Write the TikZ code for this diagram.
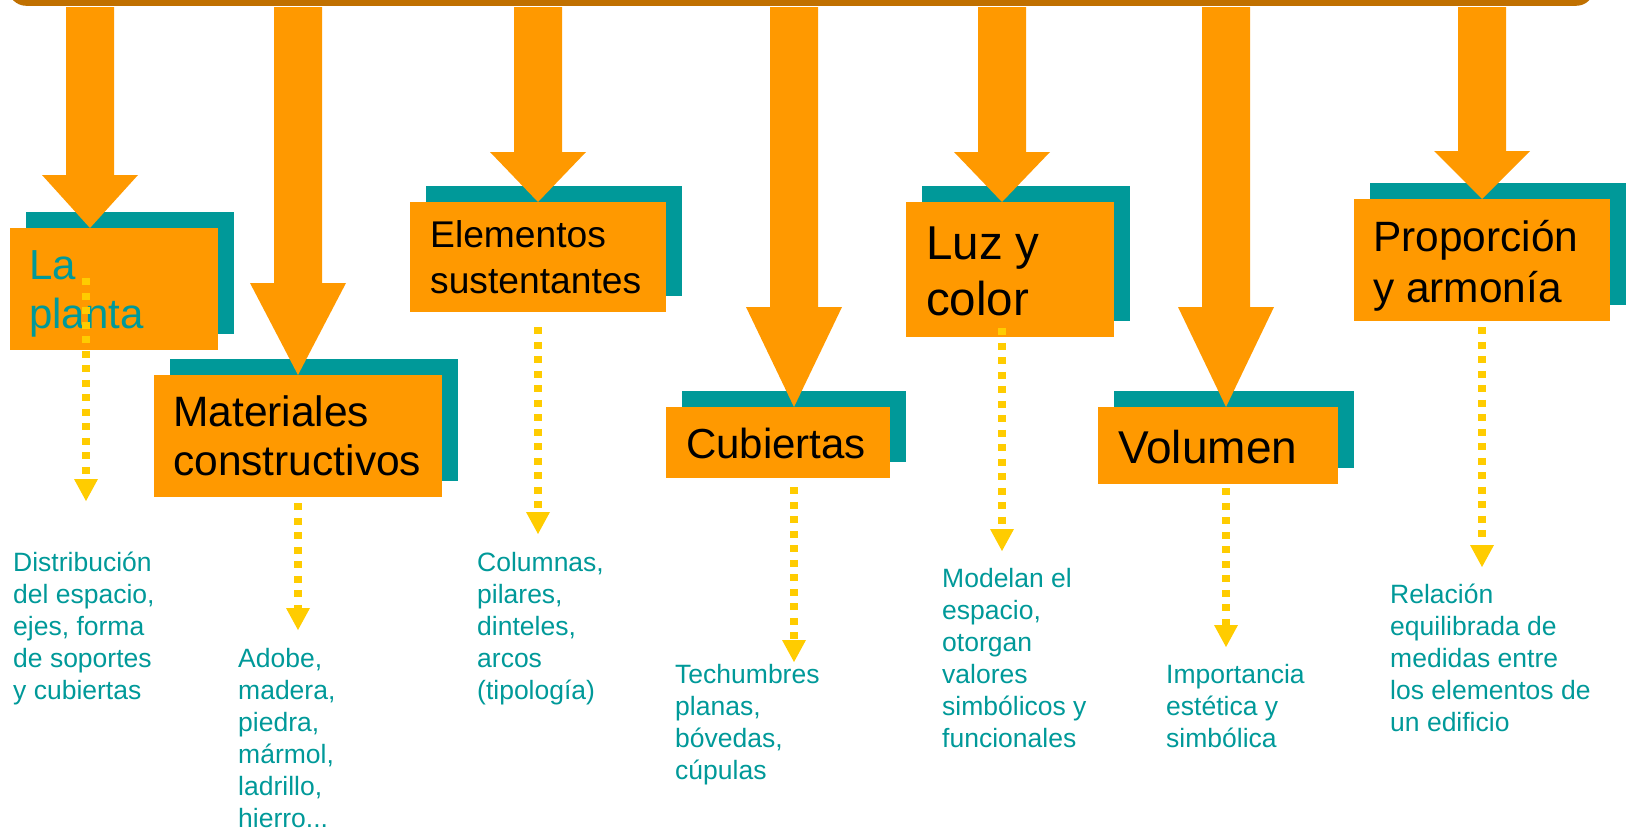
\documentclass[tikz,border=0pt]{standalone}
\usepackage{fontspec}
\setmainfont{Liberation Sans}
\usetikzlibrary{arrows.meta,calc,shadows}
\definecolor{orng}{HTML}{FF9900}
\definecolor{tealc}{HTML}{009999}
\definecolor{goldy}{HTML}{FFCC00}
\definecolor{barc}{HTML}{C07000}
\newcommand\lines[1]{\parbox[t]{400pt}{\raggedright #1}}
\newcommand\bigarrow[3]{%
  \fill[bigarr] ($(#1.north west)+(#2,0)$) -- ++(-48,-#3) -- ++(24,0)
    -- ($(#1.north west |- bar.south)+(#2-24,1)$) -- ++(48,0)
    -- ($(#1.north west)+(#2+24,-#3)$) -- ++(24,0) -- cycle;}
\tikzset{
  bar/.style={rectangle, fill=barc, rounded corners=18pt, inner sep=0pt},
  box/.style={rectangle, fill=orng, inner sep=0pt, anchor=north west,
    drop shadow={shadow xshift=16pt, shadow yshift=16.5pt, fill=tealc, opacity=1}},
  bigarr/.style={fill=orng},
  dotarr/.style={draw=goldy, line width=8pt, dash pattern=on 7pt off 7.5pt,
    -{Triangle[width=24pt,length=22pt,line width=0pt]}},
  lbl/.style={anchor=base west, inner sep=0pt, text=black},
  desc/.style={anchor=base west, inner sep=0pt, text=tealc, font=\fontsize{26.5}{32}\selectfont},
}
\begin{document}
\begin{tikzpicture}[x=1pt,y=-1pt]
\useasboundingbox (0,0) rectangle (1629,830);
\clip (0,0) rectangle (1629,830);
% top bar
\node[bar, minimum width=1586pt, minimum height=60pt, anchor=south west] (bar) at (8,6) {};
% boxes
\node[box, minimum width=208pt, minimum height=122pt] (b1) at (10,228) {};
\node[box, minimum width=288pt, minimum height=122pt] (b2) at (154,375) {};
\node[box, minimum width=256pt, minimum height=110pt] (b3) at (410,202) {};
\node[box, minimum width=224pt, minimum height=71pt] (b4) at (666,407) {};
\node[box, minimum width=208pt, minimum height=135pt] (b5) at (906,202) {};
\node[box, minimum width=240pt, minimum height=77pt] (b6) at (1098,407) {};
\node[box, minimum width=256pt, minimum height=122pt] (b7) at (1354,199) {};
% big arrows from the bar to the boxes
\bigarrow{b1}{80}{53}
\bigarrow{b2}{144}{92}
\bigarrow{b3}{128}{50}
\bigarrow{b4}{128}{100}
\bigarrow{b5}{96}{50}
\bigarrow{b6}{128}{100}
\bigarrow{b7}{128}{48}
% labels in boxes
\node[lbl, text=tealc, font=\fontsize{42}{49}\selectfont] (l1) at (29,279) {\lines{La\\planta}};
\node[lbl, font=\fontsize{42.5}{49}\selectfont] (l2) at (173,426) {\lines{Materiales\\constructivos}};
\node[lbl, font=\fontsize{37.2}{46}\selectfont] (l3) at (430,247) {\lines{Elementos\\sustentantes}};
\node[lbl, font=\fontsize{42}{50}\selectfont] (l4) at (686,458) {Cubiertas};
\node[lbl, font=\fontsize{47.5}{56}\selectfont] (l5) at (926,259) {\lines{Luz y\\color}};
\node[lbl, font=\fontsize{46}{50}\selectfont] (l6) at (1118,463) {Volumen};
\node[lbl, font=\fontsize{42.4}{51}\selectfont] (l7) at (1373,251) {\lines{Proporción\\y armonía}};
% end points of dotted arrows
\coordinate (e1) at (86,501);
\coordinate (e2) at (298,630);
\coordinate (e3) at (538,534);
\coordinate (e4) at (794,662);
\coordinate (e5) at (1002,551);
\coordinate (e6) at (1226,647);
\coordinate (e7) at (1482,567);
\draw[dotarr] ($(b1.south west)+(76,-72)$) -- (e1);
\draw[dotarr] ($(b2.south west)+(144,6)$) -- (e2);
\draw[dotarr] ($(b3.south west)+(128,15)$) -- (e3);
\draw[dotarr] ($(b4.south west)+(128,9)$) -- (e4);
\draw[dotarr] ($(b5.south west)+(96,-9)$) -- (e5);
\draw[dotarr] ($(b6.south west)+(128,4)$) -- (e6);
\draw[dotarr] ($(b7.south west)+(128,6)$) -- (e7);
% descriptions
\node[desc] (t1) at (13,571) {\lines{Distribución\\del espacio,\\ejes, forma\\de soportes\\y cubiertas}};
\node[desc] (t2) at (238,667) {\lines{Adobe,\\madera,\\piedra,\\mármol,\\ladrillo,\\hierro...}};
\node[desc] (t3) at (477,571) {\lines{Columnas,\\pilares,\\dinteles,\\arcos\\(tipología)}};
\node[desc] (t4) at (675,683) {\lines{Techumbres\\planas,\\bóvedas,\\cúpulas}};
\node[desc] (t5) at (942,587) {\lines{Modelan el\\espacio,\\otorgan\\valores\\simbólicos y\\funcionales}};
\node[desc] (t6) at (1166,683) {\lines{Importancia\\estética y\\simbólica}};
\node[desc] (t7) at (1390,603) {\lines{Relación\\equilibrada de\\medidas entre\\los elementos de\\un edificio}};
\end{tikzpicture}
\end{document}
